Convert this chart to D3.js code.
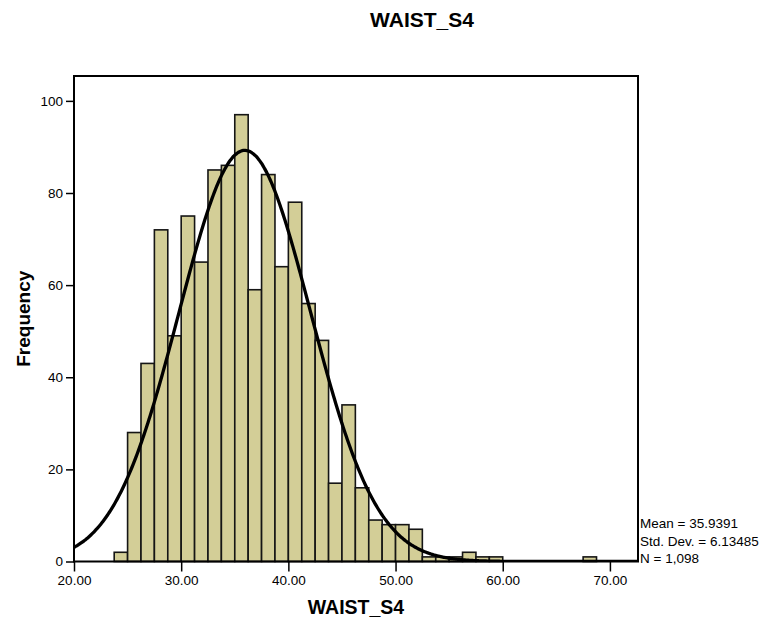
<!DOCTYPE html>
<html>
<head>
<meta charset="utf-8">
<script src="https://cdn.jsdelivr.net/npm/d3@7"></script>
<style>
  html, body { margin: 0; padding: 0; background: #fff; }
  svg { display: block; font-family: Arial, "Liberation Sans", sans-serif; }
</style>
</head>
<body>
<svg id="chart" width="775" height="624"></svg>
<script>
// Histogram of WAIST_S4: lower bin edges and frequencies (bin width 1.25)
const binLower = [23.75, 25.00, 26.25, 27.50, 28.75, 30.00, 31.25, 32.50, 33.75, 35.00,
                  36.25, 37.50, 38.75, 40.00, 41.25, 42.50, 43.75, 45.00, 46.25, 47.50,
                  48.75, 50.00, 51.25, 52.50, 53.75, 55.00, 56.25, 57.50, 58.75, 60.00,
                  61.25, 62.50, 63.75, 65.00, 66.25, 67.50];
const binCounts = [2, 28, 43, 72, 49, 75, 65, 85, 86, 97,
                   59, 84, 64, 78, 56, 48, 17, 34, 16, 9,
                   8, 8, 7, 1, 1, 1, 2, 1, 1, 0,
                   0, 0, 0, 0, 0, 1];
const binWidth = 1.25;

const xTicks = [20, 30, 40, 50, 60, 70];
const yTicks = [0, 20, 40, 60, 80, 100];

const stats = { mean: 35.9391, sd: 6.13485, n: 1098 };
const statLines = ["Mean = 35.9391", "Std. Dev. = 6.13485", "N = 1,098"];

const title = "WAIST_S4";
const xLabel = "WAIST_S4";
const yLabel = "Frequency";

const svg = d3.select("#chart");
const plot = { left: 74, right: 638, top: 76, bottom: 561.5 };

const x = d3.scaleLinear().domain([20, 72.62]).range([plot.left, plot.right]);
const y = d3.scaleLinear().domain([0, 105.4]).range([plot.bottom, plot.top]);

svg.append("defs").append("clipPath").attr("id", "plot-clip")
  .append("rect")
  .attr("x", plot.left).attr("y", plot.top)
  .attr("width", plot.right - plot.left).attr("height", plot.bottom - plot.top);

// bars
const bins = binLower.map((lo, i) => ({ lo, hi: lo + binWidth, count: binCounts[i] }))
  .filter(d => d.count > 0);

svg.append("g").selectAll("rect").data(bins).join("rect")
  .attr("x", d => x(d.lo))
  .attr("y", d => y(d.count))
  .attr("width", d => x(d.hi) - x(d.lo))
  .attr("height", d => y(0) - y(d.count))
  .attr("fill", "#d3ce97")
  .attr("stroke", "#151515")
  .attr("stroke-width", 1.6);

// fitted normal curve scaled to counts
const scale = stats.n * binWidth;
const pdf = v => Math.exp(-0.5 * ((v - stats.mean) / stats.sd) ** 2) / (stats.sd * Math.sqrt(2 * Math.PI));
const curvePts = d3.range(20, 72.7, 0.1).map(v => [v, scale * pdf(v)]);

svg.append("path")
  .datum(curvePts)
  .attr("clip-path", "url(#plot-clip)")
  .attr("fill", "none")
  .attr("stroke", "#000")
  .attr("stroke-width", 3.3)
  .attr("d", d3.line().x(d => x(d[0])).y(d => y(d[1])).curve(d3.curveMonotoneX));

// frame
svg.append("rect")
  .attr("x", plot.left).attr("y", plot.top)
  .attr("width", plot.right - plot.left).attr("height", plot.bottom - plot.top)
  .attr("fill", "none").attr("stroke", "#000").attr("stroke-width", 2);

// axes
const xAxis = svg.append("g")
  .attr("transform", `translate(0,${plot.bottom})`)
  .call(d3.axisBottom(x).tickValues(xTicks).tickFormat(d3.format(".2f")).tickSize(10).tickPadding(4));
const yAxis = svg.append("g")
  .attr("transform", `translate(${plot.left},0)`)
  .call(d3.axisLeft(y).tickValues(yTicks).tickFormat(d3.format("d")).tickSize(8).tickPadding(3));

[xAxis, yAxis].forEach(g => {
  g.select(".domain").remove();
  g.selectAll(".tick line").attr("stroke", "#000").attr("stroke-width", 1.5);
  g.selectAll(".tick text").attr("fill", "#000")
    .style("font-size", "13.5px").style("font-family", "Arial, 'Liberation Sans', sans-serif");
});

// titles
svg.append("text")
  .attr("x", 422).attr("y", 26.5)
  .attr("text-anchor", "middle")
  .style("font-size", "21px").style("font-weight", "bold")
  .text(title);

svg.append("text")
  .attr("x", (plot.left + plot.right) / 2).attr("y", 614)
  .attr("text-anchor", "middle")
  .style("font-size", "19.5px").style("font-weight", "bold")
  .text(xLabel);

svg.append("text")
  .attr("transform", `translate(30,${(plot.top + plot.bottom) / 2}) rotate(-90)`)
  .attr("text-anchor", "middle")
  .style("font-size", "19px").style("font-weight", "bold")
  .text(yLabel);

// summary statistics
svg.append("g").selectAll("text").data(statLines).join("text")
  .attr("x", 640)
  .attr("y", (d, i) => 528 + i * 17.5)
  .style("font-size", "13.5px")
  .text(d => d);
</script>
</body>
</html>
